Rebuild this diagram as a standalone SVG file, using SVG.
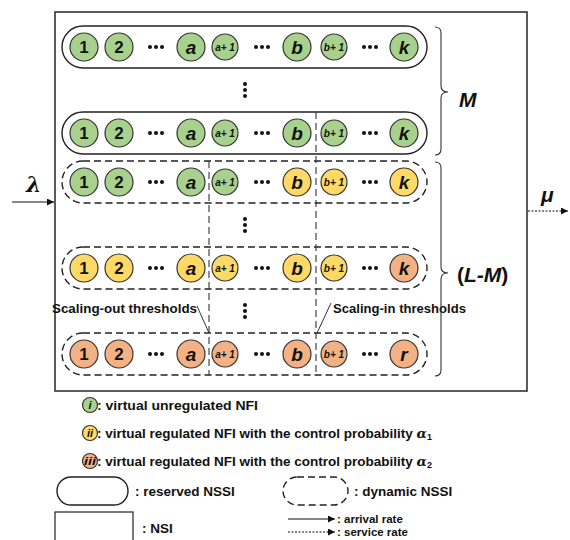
<svg xmlns="http://www.w3.org/2000/svg" width="570" height="540" viewBox="0 0 570 540">
<defs>
<style>
text{font-family:"Liberation Sans",Arial,sans-serif;font-weight:bold;fill:#111}
.n{font-size:17px;text-anchor:middle}
.v{font-size:19px;font-style:italic;text-anchor:middle}
.s{font-size:10px;font-style:italic;text-anchor:middle}
.g{fill:#a9d18e;stroke:#333;stroke-width:1.2}
.y{fill:#ffd966;stroke:#333;stroke-width:1.2}
.o{fill:#f4b183;stroke:#333;stroke-width:1.2}
.pill{fill:none;stroke:#222;stroke-width:1.4}
.dpill{fill:none;stroke:#222;stroke-width:1.4;stroke-dasharray:7 4}
.vline{fill:none;stroke:#333;stroke-width:1.1;stroke-dasharray:7 4}
.brace{fill:none;stroke:#333;stroke-width:1.1}
.lg{font-size:13.5px}
.lr{font-size:11.5px}
.lc{font-size:11px;font-style:italic;text-anchor:middle}
</style>
<marker id="ah" viewBox="0 0 10 10" refX="10" refY="5" markerWidth="10" markerHeight="7" orient="auto" markerUnits="userSpaceOnUse"><path d="M0,0 L10,5 L0,10 z" fill="#111" stroke="none"/></marker>
<symbol id="dots" overflow="visible"><circle cx="-6" cy="0" r="2" fill="#111"/><circle cx="0" cy="0" r="2" fill="#111"/><circle cx="6" cy="0" r="2" fill="#111"/></symbol>
<symbol id="vdots" overflow="visible"><circle cx="0" cy="-6" r="2" fill="#111"/><circle cx="0" cy="0" r="2" fill="#111"/><circle cx="0" cy="6" r="2" fill="#111"/></symbol>
</defs>
<rect width="570" height="540" fill="#fff"/>

<g id="nsi">
<rect x="55" y="12" width="472" height="379" fill="none" stroke="#333" stroke-width="1.6"/>
</g>

<g id="row1">
<rect class="pill" x="62" y="26" width="365" height="42" rx="21"/>
<circle class="g" cx="84" cy="47" r="14"/><text class="n" x="84" y="53">1</text>
<circle class="g" cx="119" cy="47" r="14"/><text class="n" x="119" y="53">2</text>
<use href="#dots" x="156" y="47"/>
<circle class="g" cx="191" cy="47" r="14"/><text class="v" x="191" y="53.5">a</text>
<circle class="g" cx="225" cy="47" r="13"/><text class="s" x="225" y="50.5">a+ 1</text>
<use href="#dots" x="262" y="47"/>
<circle class="g" cx="297" cy="47" r="14"/><text class="v" x="297" y="53.5">b</text>
<circle class="g" cx="334" cy="47" r="13"/><text class="s" x="334" y="50.5">b+ 1</text>
<use href="#dots" x="370" y="47"/>
<circle class="g" cx="404" cy="47" r="14"/><text class="v" x="404" y="53.5">k</text>
</g>

<g id="vd1"><use href="#vdots" x="245" y="90"/></g>

<g id="row2">
<rect class="pill" x="62" y="112" width="365" height="42" rx="21"/>
<circle class="g" cx="84" cy="133" r="14"/><text class="n" x="84" y="139">1</text>
<circle class="g" cx="119" cy="133" r="14"/><text class="n" x="119" y="139">2</text>
<use href="#dots" x="156" y="133"/>
<circle class="g" cx="191" cy="133" r="14"/><text class="v" x="191" y="139.5">a</text>
<circle class="g" cx="225" cy="133" r="13"/><text class="s" x="225" y="136.5">a+ 1</text>
<use href="#dots" x="262" y="133"/>
<circle class="g" cx="297" cy="133" r="14"/><text class="v" x="297" y="139.5">b</text>
<circle class="g" cx="334" cy="133" r="13"/><text class="s" x="334" y="136.5">b+ 1</text>
<use href="#dots" x="370" y="133"/>
<circle class="g" cx="404" cy="133" r="14"/><text class="v" x="404" y="139.5">k</text>
</g>

<g id="row3">
<rect class="dpill" x="62" y="161" width="365" height="42" rx="21"/>
<circle class="g" cx="84" cy="182" r="14"/><text class="n" x="84" y="188">1</text>
<circle class="g" cx="119" cy="182" r="14"/><text class="n" x="119" y="188">2</text>
<use href="#dots" x="156" y="182"/>
<circle class="g" cx="191" cy="182" r="14"/><text class="v" x="191" y="188.5">a</text>
<circle class="g" cx="225" cy="182" r="13"/><text class="s" x="225" y="185.5">a+ 1</text>
<use href="#dots" x="262" y="182"/>
<circle class="y" cx="297" cy="182" r="14"/><text class="v" x="297" y="188.5">b</text>
<circle class="y" cx="334" cy="182" r="13"/><text class="s" x="334" y="185.5">b+ 1</text>
<use href="#dots" x="370" y="182"/>
<circle class="y" cx="404" cy="182" r="14"/><text class="v" x="404" y="188.5">k</text>
</g>

<g id="vd2"><use href="#vdots" x="245" y="225"/></g>

<g id="row4">
<rect class="dpill" x="62" y="247" width="365" height="42" rx="21"/>
<circle class="y" cx="84" cy="268" r="14"/><text class="n" x="84" y="274">1</text>
<circle class="y" cx="119" cy="268" r="14"/><text class="n" x="119" y="274">2</text>
<use href="#dots" x="156" y="268"/>
<circle class="y" cx="191" cy="268" r="14"/><text class="v" x="191" y="274.5">a</text>
<circle class="y" cx="225" cy="268" r="13"/><text class="s" x="225" y="271.5">a+ 1</text>
<use href="#dots" x="262" y="268"/>
<circle class="y" cx="297" cy="268" r="14"/><text class="v" x="297" y="274.5">b</text>
<circle class="y" cx="334" cy="268" r="13"/><text class="s" x="334" y="271.5">b+ 1</text>
<use href="#dots" x="370" y="268"/>
<circle class="o" cx="404" cy="268" r="14"/><text class="v" x="404" y="274.5">k</text>
</g>

<g id="vd3"><use href="#vdots" x="245" y="311"/></g>

<g id="row5">
<rect class="dpill" x="62" y="333" width="365" height="42" rx="21"/>
<circle class="o" cx="84" cy="354" r="14"/><text class="n" x="84" y="360">1</text>
<circle class="o" cx="119" cy="354" r="14"/><text class="n" x="119" y="360">2</text>
<use href="#dots" x="156" y="354"/>
<circle class="o" cx="191" cy="354" r="14"/><text class="v" x="191" y="360.5">a</text>
<circle class="o" cx="225" cy="354" r="13"/><text class="s" x="225" y="357.5">a+ 1</text>
<use href="#dots" x="262" y="354"/>
<circle class="o" cx="297" cy="354" r="14"/><text class="v" x="297" y="360.5">b</text>
<circle class="o" cx="334" cy="354" r="13"/><text class="s" x="334" y="357.5">b+ 1</text>
<use href="#dots" x="370" y="354"/>
<circle class="o" cx="404" cy="354" r="14"/><text class="v" x="404" y="360.5">r</text>
</g>

<g id="thresholds">
<line class="vline" x1="209" y1="161" x2="209" y2="375"/>
<line class="vline" x1="316" y1="112" x2="316" y2="375"/>
<text class="lg" x="52" y="313" textLength="145" lengthAdjust="spacingAndGlyphs">Scaling-out thresholds</text>
<line x1="197" y1="306" x2="209" y2="333" stroke="#333" stroke-width="1"/>
<text class="lg" x="333" y="313" textLength="133" lengthAdjust="spacingAndGlyphs">Scaling-in thresholds</text>
<line x1="331" y1="303" x2="317" y2="333" stroke="#333" stroke-width="1"/>
</g>

<g id="braces">
<path class="brace" d="M435,27 Q441,27 441,33 L441,86 Q441,92 448,92 Q441,92 441,98 L441,149 Q441,155 435,155"/>
<text x="459" y="107" style="font-size:21px;font-style:italic">M</text>
<path class="brace" d="M435,162 Q441,162 441,168 L441,267 Q441,273 448,273 Q441,273 441,279 L441,370 Q441,376 435,376"/>
<text x="457" y="282" style="font-size:21px">(<tspan font-style="italic">L-M</tspan>)</text>
</g>

<g id="connectors">
<line x1="12" y1="202" x2="54" y2="202" stroke="#111" stroke-width="1.1" marker-end="url(#ah)"/>
<text x="26" y="192" style="font-family:'DejaVu Serif',serif;font-size:22px;font-style:italic;font-weight:bold">λ</text>
<line x1="528" y1="211" x2="568" y2="211" stroke="#111" stroke-width="1.1" stroke-dasharray="2 1.5" marker-end="url(#ah)"/>
<text x="541" y="202" style="font-size:21px;font-style:italic">μ</text>
</g>

<g id="legend">
<circle class="g" cx="90" cy="405" r="7.5"/><text class="lc" x="90" y="409">i</text>
<text class="lg" x="97" y="410" textLength="161" lengthAdjust="spacingAndGlyphs">: virtual unregulated NFI</text>
<circle class="y" cx="90" cy="433" r="7.5"/><text class="lc" x="90" y="437">ii</text>
<text class="lg" x="97" y="438">: virtual regulated NFI with the control probability <tspan font-style="italic" font-family="'DejaVu Serif',serif">α</tspan><tspan font-size="9" dy="2">1</tspan></text>
<circle class="o" cx="90" cy="461" r="7.5"/><text class="lc" x="90" y="465" textLength="12" lengthAdjust="spacingAndGlyphs">iii</text>
<text class="lg" x="97" y="466">: virtual regulated NFI with the control probability <tspan font-style="italic" font-family="'DejaVu Serif',serif">α</tspan><tspan font-size="9" dy="2">2</tspan></text>
<rect class="pill" x="57" y="477" width="71" height="28" rx="14"/>
<text class="lg" x="135" y="496">: reserved NSSI</text>
<rect class="dpill" x="283" y="477" width="65" height="28" rx="14"/>
<text class="lg" x="354" y="496">: dynamic NSSI</text>
<rect x="55" y="512" width="78" height="40" fill="none" stroke="#222" stroke-width="1.2"/>
<text class="lg" x="142" y="533">: NSI</text>
<line x1="288" y1="519" x2="335" y2="519" stroke="#111" stroke-width="1.1" marker-end="url(#ah)"/>
<text class="lr" x="337" y="523">: arrival rate</text>
<line x1="288" y1="532" x2="335" y2="532" stroke="#111" stroke-width="1.1" stroke-dasharray="2 1.5" marker-end="url(#ah)"/>
<text class="lr" x="337" y="536">: service rate</text>
</g>
</svg>
